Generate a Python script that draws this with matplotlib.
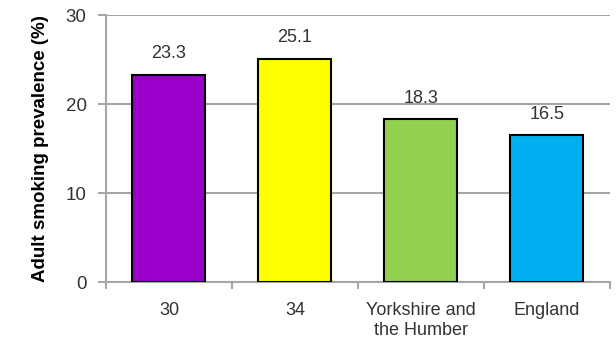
import numpy as np
import matplotlib.pyplot as plt

plt.rcParams['font.family'] = ['Liberation Sans', 'DejaVu Sans']

categories = ['30', '34', 'Yorkshire and\nthe Humber', 'England']
values = [23.3, 25.1, 18.3, 16.5]
colors = ['#9900CC', '#FFFF00', '#92D050', '#00B0F0']

fig = plt.figure(figsize=(6.16, 3.5), dpi=100)
ax = fig.add_axes([0.172, 0.194, 0.818, 0.763])

x = np.arange(len(categories))
bars = ax.bar(x, values, width=0.58, color=colors, edgecolor='black',
              linewidth=1.5, zorder=3)
for xi, v in zip(x, values):
    ax.text(xi, v + 1.4, f'{v:.1f}', ha='center', va='bottom',
            fontsize=13, color='#333333')

ax.set_xlim(-0.5, len(categories) - 0.5)
ax.set_ylim(0, 30)
ax.set_yticks([0, 10, 20, 30])
ax.yaxis.grid(True, color='#A6A6A6', linewidth=1.5, zorder=0)
ax.set_axisbelow(True)

ax.set_xticks(x)
ax.set_xticklabels(categories, fontsize=13, color='#333333', linespacing=1.3)
ax.set_xticks(np.arange(-0.5, len(categories)), minor=True)
ax.tick_params(axis='x', which='major', length=0, pad=14)
ax.tick_params(axis='x', which='minor', length=5, width=1.5, color='#A6A6A6')
ax.tick_params(axis='y', length=6, width=1.5, color='#A6A6A6',
               labelsize=13.5, labelcolor='#333333', pad=8)

for side in ['top', 'right']:
    ax.spines[side].set_visible(False)
for side in ['left', 'bottom']:
    ax.spines[side].set_color('#A6A6A6')
    ax.spines[side].set_linewidth(1.5)

ax.set_ylabel('Adult smoking prevalence (%)', fontsize=13.5, fontweight='bold',
              labelpad=12)

fig.savefig('out.png', dpi=100)
